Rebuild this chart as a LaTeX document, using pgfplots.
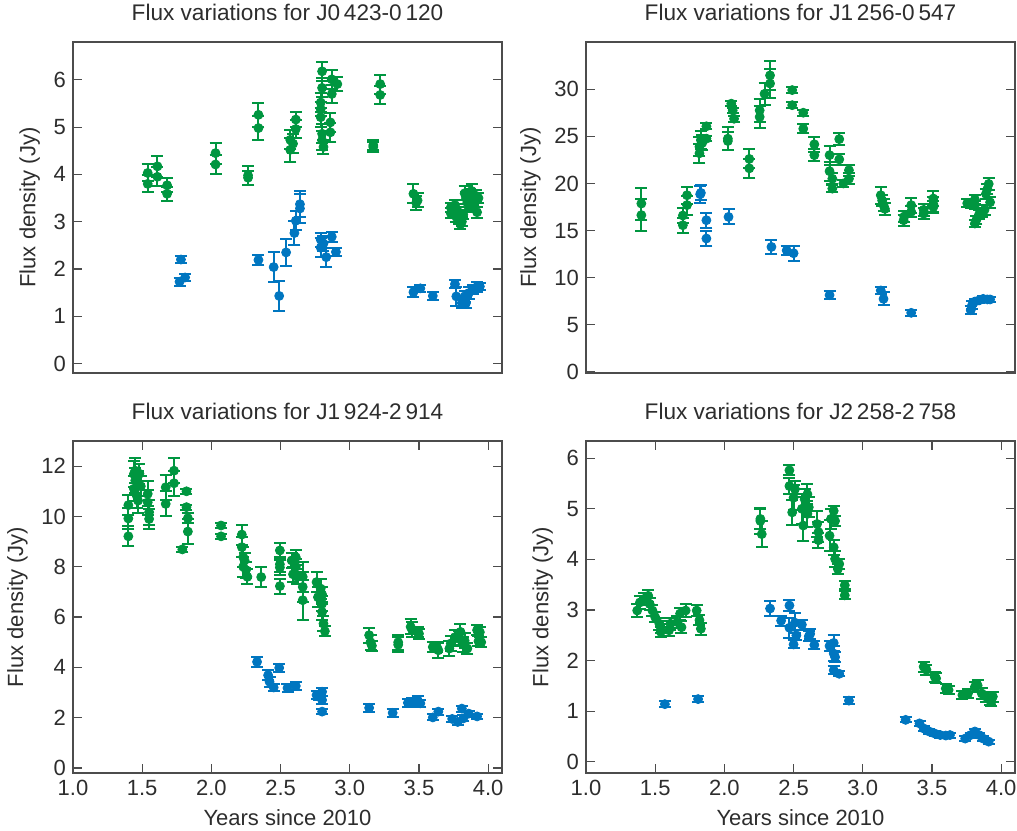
\documentclass[border=0pt]{standalone}
\usepackage{fontspec}
\setmainfont{Liberation Sans}
\usepackage{pgfplots}
\pgfplotsset{compat=1.18}
\usepackage{pgfplotstable}
\definecolor{fgreen}{RGB}{0,150,64}
\definecolor{fblue}{RGB}{0,118,192}
\definecolor{txt}{RGB}{45,45,45}

% ---------- J0423-0120 ----------
\pgfplotstableread{
x y e
1.54 4.03 0.18
1.54 3.80 0.18
1.61 4.17 0.22
1.61 3.95 0.20
1.68 3.77 0.15
1.68 3.59 0.15
2.03 4.45 0.22
2.03 4.21 0.20
2.265 3.98 0.20
2.265 3.93 0.15
2.34 5.26 0.25
2.34 4.98 0.25
2.57 4.73 0.20
2.57 4.52 0.25
2.61 5.16 0.15
2.61 4.96 0.20
2.59 4.65 0.20
2.80 6.18 0.20
2.80 5.83 0.20
2.79 5.52 0.20
2.79 5.38 0.15
2.79 5.21 0.20
2.80 4.86 0.20
2.80 4.72 0.20
2.81 4.58 0.15
2.87 6.01 0.20
2.91 5.91 0.15
2.87 5.70 0.20
2.86 5.10 0.20
2.86 4.89 0.20
3.17 4.58 0.10
3.17 4.62 0.10
3.22 5.91 0.20
3.22 5.68 0.20
3.46 3.59 0.20
3.49 3.45 0.15
3.48 3.40 0.15
3.73 3.30 0.10
3.73 3.18 0.10
3.75 3.25 0.12
3.76 3.35 0.10
3.77 3.10 0.10
3.78 3.22 0.10
3.79 3.05 0.10
3.80 2.95 0.10
3.81 3.00 0.10
3.82 3.15 0.10
3.83 3.60 0.15
3.84 3.50 0.12
3.85 3.40 0.15
3.86 3.30 0.10
3.87 3.55 0.15
3.88 3.65 0.15
3.89 3.45 0.10
3.90 3.35 0.10
3.91 3.55 0.12
3.92 3.20 0.12
3.93 3.50 0.10
}\tAg
\pgfplotstableread{
x y e
1.78 2.20 0.08
1.77 1.73 0.08
1.81 1.82 0.08
2.34 2.19 0.10
2.45 2.04 0.32
2.49 1.43 0.32
2.54 2.35 0.28
2.60 2.76 0.25
2.61 3.02 0.20
2.64 3.37 0.28
2.64 3.28 0.30
2.79 2.62 0.15
2.79 2.45 0.20
2.81 2.54 0.15
2.83 2.25 0.20
2.87 2.68 0.10
2.90 2.36 0.08
3.46 1.51 0.10
3.51 1.59 0.08
3.60 1.43 0.08
3.76 1.68 0.08
3.77 1.42 0.20
3.81 1.28 0.10
3.84 1.28 0.10
3.83 1.42 0.12
3.86 1.49 0.12
3.89 1.57 0.10
3.92 1.62 0.10
3.94 1.63 0.08
}\tAb

% ---------- J1256-0547 ----------
\pgfplotstableread{
x y e
1.40 17.87 1.7
1.40 16.64 1.7
1.70 15.57 0.8
1.70 16.60 0.8
1.73 17.70 1.0
1.73 18.75 0.9
1.82 23.20 1.0
1.82 23.90 1.0
1.83 24.60 1.0
1.84 24.30 0.8
1.87 26.06 0.3
1.87 24.75 0.3
2.025 24.75 1.2
2.025 24.50 1.0
2.05 28.46 0.3
2.06 27.75 0.3
2.07 26.86 0.3
2.18 22.60 1.0
2.18 21.60 1.0
2.255 27.75 1.2
2.255 27.05 1.2
2.29 29.50 1.2
2.33 31.46 1.5
2.33 30.60 1.5
2.49 29.90 0.3
2.49 28.30 0.3
2.57 27.50 0.3
2.57 25.80 0.5
2.65 24.15 0.8
2.65 23.00 0.6
2.76 23.00 1.0
2.76 21.30 1.0
2.78 20.50 0.6
2.78 19.45 0.4
2.83 24.70 0.6
2.83 22.55 0.6
2.86 20.00 0.4
2.90 21.40 0.6
2.90 20.50 0.6
3.13 18.75 0.9
3.14 18.20 0.6
3.15 17.70 0.6
3.16 17.30 0.6
3.295 16.10 0.6
3.30 16.50 0.6
3.35 17.70 0.8
3.35 17.00 0.6
3.44 17.20 0.6
3.44 16.80 0.6
3.51 18.40 0.8
3.51 17.80 0.8
3.51 17.50 0.6
3.755 17.90 0.4
3.78 17.80 0.4
3.81 18.30 0.5
3.81 17.70 0.4
3.81 15.75 0.4
3.82 16.10 0.4
3.84 16.70 0.5
3.86 16.90 0.5
3.88 17.20 0.5
3.89 18.90 0.5
3.91 19.95 0.6
3.92 18.00 0.6
3.90 19.40 0.5
}\tBg
\pgfplotstableread{
x y e
1.825 18.86 0.9
1.83 19.00 0.8
1.87 16.10 0.8
1.87 14.16 0.8
2.03 16.45 0.8
2.34 13.27 0.7
2.45 12.90 0.5
2.50 12.60 0.8
2.76 8.16 0.4
3.13 8.65 0.4
3.15 7.76 0.7
3.35 6.28 0.3
3.78 6.56 0.4
3.79 7.10 0.4
3.81 7.47 0.3
3.84 7.60 0.3
3.87 7.76 0.3
3.90 7.70 0.3
3.92 7.70 0.3
}\tBb

% ---------- J1924-2914 ----------
\pgfplotstableread{
x y e
1.40 9.21 0.4
1.40 9.92 0.4
1.40 10.45 0.4
1.44 11.69 0.5
1.45 11.82 0.5
1.45 11.43 0.5
1.44 11.10 0.5
1.46 10.83 0.5
1.47 10.63 0.5
1.47 11.30 0.5
1.48 11.70 0.4
1.49 11.20 0.4
1.54 10.90 0.5
1.54 10.56 0.5
1.55 10.17 0.5
1.55 9.90 0.4
1.67 11.16 0.5
1.67 10.50 0.5
1.73 11.82 0.5
1.73 11.32 0.5
1.79 8.69 0.1
1.82 11.00 0.1
1.82 10.37 0.1
1.83 9.93 0.2
1.83 9.40 0.5
2.07 9.64 0.1
2.07 9.21 0.1
2.22 9.28 0.4
2.22 8.78 0.4
2.23 8.39 0.4
2.23 8.00 0.4
2.24 8.25 0.3
2.25 7.87 0.3
2.26 7.60 0.3
2.36 7.59 0.4
2.495 8.65 0.3
2.495 8.10 0.3
2.495 7.97 0.3
2.495 7.23 0.3
2.58 8.25 0.3
2.59 7.70 0.3
2.61 8.38 0.3
2.61 8.00 0.3
2.62 7.60 0.3
2.66 7.60 0.6
2.66 7.20 0.6
2.66 6.67 0.8
2.76 7.39 0.4
2.77 6.79 0.4
2.79 7.13 0.4
2.80 6.53 0.3
2.80 6.20 0.3
2.81 5.74 0.3
2.82 5.44 0.2
2.80 6.90 0.3
3.14 5.28 0.3
3.15 5.00 0.3
3.16 4.86 0.2
3.35 5.00 0.3
3.35 4.90 0.3
3.44 5.61 0.3
3.45 5.50 0.3
3.49 5.40 0.2
3.50 5.34 0.2
3.60 4.81 0.2
3.64 4.68 0.3
3.63 4.80 0.2
3.72 4.75 0.3
3.73 4.95 0.3
3.76 5.20 0.3
3.80 5.41 0.3
3.79 5.13 0.3
3.82 4.90 0.3
3.85 4.75 0.2
3.83 5.06 0.3
3.92 5.48 0.2
3.94 5.40 0.2
3.93 5.04 0.2
3.95 5.00 0.2
}\tCg
\pgfplotstableread{
x y e
2.33 4.22 0.20
2.41 3.69 0.20
2.42 3.43 0.20
2.45 3.20 0.15
2.49 3.98 0.15
2.55 3.18 0.15
2.61 3.26 0.15
2.76 2.90 0.15
2.80 3.03 0.15
2.80 2.70 0.15
2.80 2.24 0.10
2.78 2.84 0.15
3.14 2.39 0.15
3.31 2.19 0.15
3.42 2.59 0.15
3.45 2.63 0.15
3.49 2.70 0.15
3.51 2.57 0.15
3.60 2.01 0.12
3.64 2.24 0.12
3.74 1.95 0.12
3.78 1.83 0.12
3.81 2.36 0.12
3.82 1.97 0.12
3.86 2.16 0.12
3.92 2.05 0.10
}\tCb

% ---------- J2258-2758 ----------
\pgfplotstableread{
x y e
1.37 2.99 0.12
1.39 3.15 0.12
1.42 3.22 0.12
1.45 3.28 0.12
1.46 3.12 0.12
1.48 2.99 0.10
1.50 2.86 0.10
1.53 2.73 0.12
1.54 2.57 0.10
1.54 2.66 0.12
1.60 2.60 0.12
1.61 2.73 0.12
1.66 2.76 0.12
1.68 2.93 0.12
1.69 2.66 0.12
1.72 2.99 0.12
1.80 2.99 0.10
1.82 2.80 0.10
1.83 2.63 0.12
2.26 4.76 0.25
2.27 4.50 0.25
2.26 4.80 0.20
2.47 5.76 0.10
2.47 5.45 0.15
2.50 5.22 0.25
2.49 4.93 0.25
2.51 5.39 0.15
2.56 5.00 0.30
2.57 4.67 0.30
2.58 5.19 0.20
2.60 5.29 0.20
2.60 4.90 0.25
2.61 5.03 0.20
2.67 4.70 0.25
2.68 4.38 0.15
2.68 4.54 0.20
2.76 4.47 0.30
2.77 4.80 0.20
2.79 4.96 0.10
2.80 4.76 0.10
2.79 4.24 0.15
2.80 4.01 0.15
2.83 3.91 0.10
2.82 3.81 0.10
2.87 3.49 0.08
2.87 3.29 0.08
3.44 1.88 0.10
3.46 1.82 0.10
3.52 1.68 0.10
3.53 1.65 0.10
3.60 1.45 0.08
3.62 1.42 0.08
3.72 1.32 0.08
3.76 1.35 0.08
3.81 1.48 0.10
3.83 1.51 0.10
3.86 1.35 0.10
3.89 1.29 0.10
3.92 1.22 0.10
3.94 1.29 0.10
3.93 1.19 0.08
}\tDg
\pgfplotstableread{
x y e
1.57 1.14 0.06
1.81 1.24 0.06
2.33 3.03 0.15
2.41 2.79 0.10
2.47 3.09 0.10
2.47 2.65 0.20
2.51 2.75 0.20
2.50 2.32 0.08
2.56 2.71 0.10
2.52 2.50 0.10
2.61 2.48 0.10
2.62 2.53 0.10
2.65 2.31 0.08
2.76 2.29 0.10
2.79 2.35 0.15
2.79 2.14 0.15
2.80 2.07 0.10
2.79 1.81 0.08
2.83 1.74 0.05
2.90 1.21 0.07
3.31 0.83 0.05
3.41 0.76 0.05
3.44 0.66 0.05
3.48 0.60 0.05
3.52 0.56 0.05
3.56 0.53 0.05
3.60 0.52 0.05
3.63 0.53 0.05
3.74 0.46 0.05
3.78 0.53 0.05
3.81 0.60 0.05
3.84 0.53 0.05
3.87 0.46 0.05
3.91 0.40 0.04
}\tDb

\pgfplotsset{
  fluxbase/.style={
    scale only axis, width=214.5pt, height=165.5pt,
    anchor=south west,
    xmin=1, xmax=4.1,
    axis line style={black!70, line width=0.6pt},
    tick style={black!70, line width=0.6pt},
    major tick length=4.5pt,
    tick align=inside,
    /pgf/number format/assume math mode=true,
    tick label style={font=\fontsize{11}{13}\selectfont, text=txt},
    label style={font=\fontsize{11}{13}\selectfont, text=txt},
    title style={font=\fontsize{11.3}{13}\selectfont, text=txt, yshift=1pt},
    ylabel={Flux density (Jy)},
  },
  toprow/.style={xtick=\empty},
  botrow/.style={
    xtick={1,1.5,...,4},
    xticklabel style={/pgf/number format/.cd, fixed, fixed zerofill, precision=1},
    xlabel={Years since 2010},
  },
  ser/.style={only marks, mark=*, mark size=2.25pt, color=#1,
    mark options={draw=#1, fill=#1},
    error bars/.cd, y dir=both, y explicit,
    error mark=-,
    error bar style={line width=1pt, color=#1},
    error mark options={rotate=90, mark size=3pt, line width=1pt, color=#1}},
}

\begin{document}
\begin{tikzpicture}
\useasboundingbox (0,0) rectangle (508.5pt,415pt);

\begin{axis}[fluxbase, toprow, at={(36.5pt,228.5pt)},
  ymin=-0.2, ymax=6.8, ytick={0,1,...,6},
  title={Flux variations for J0\,423-0\,120}]
\addplot[ser=fgreen] table[x=x, y=y, y error=e] {\tAg};
\addplot[ser=fblue] table[x=x, y=y, y error=e] {\tAb};
\end{axis}

\begin{axis}[fluxbase, toprow, at={(293pt,228.5pt)},
  ymin=-0.1, ymax=35, ytick={0,5,...,30},
  title={Flux variations for J1\,256-0\,547}]
\addplot[ser=fgreen] table[x=x, y=y, y error=e] {\tBg};
\addplot[ser=fblue] table[x=x, y=y, y error=e] {\tBb};
\end{axis}

\begin{axis}[fluxbase, botrow, at={(36.5pt,28.5pt)}, height=166pt,
  ymin=-0.2, ymax=13, ytick={0,2,...,12},
  title={Flux variations for J1\,924-2\,914}]
\addplot[ser=fgreen] table[x=x, y=y, y error=e] {\tCg};
\addplot[ser=fblue] table[x=x, y=y, y error=e] {\tCb};
\end{axis}

\begin{axis}[fluxbase, botrow, at={(293pt,28.5pt)}, height=166pt,
  ymin=-0.22, ymax=6.34, ytick={0,1,...,6},
  title={Flux variations for J2\,258-2\,758}]
\addplot[ser=fgreen] table[x=x, y=y, y error=e] {\tDg};
\addplot[ser=fblue] table[x=x, y=y, y error=e] {\tDb};
\end{axis}
\end{tikzpicture}
\end{document}
